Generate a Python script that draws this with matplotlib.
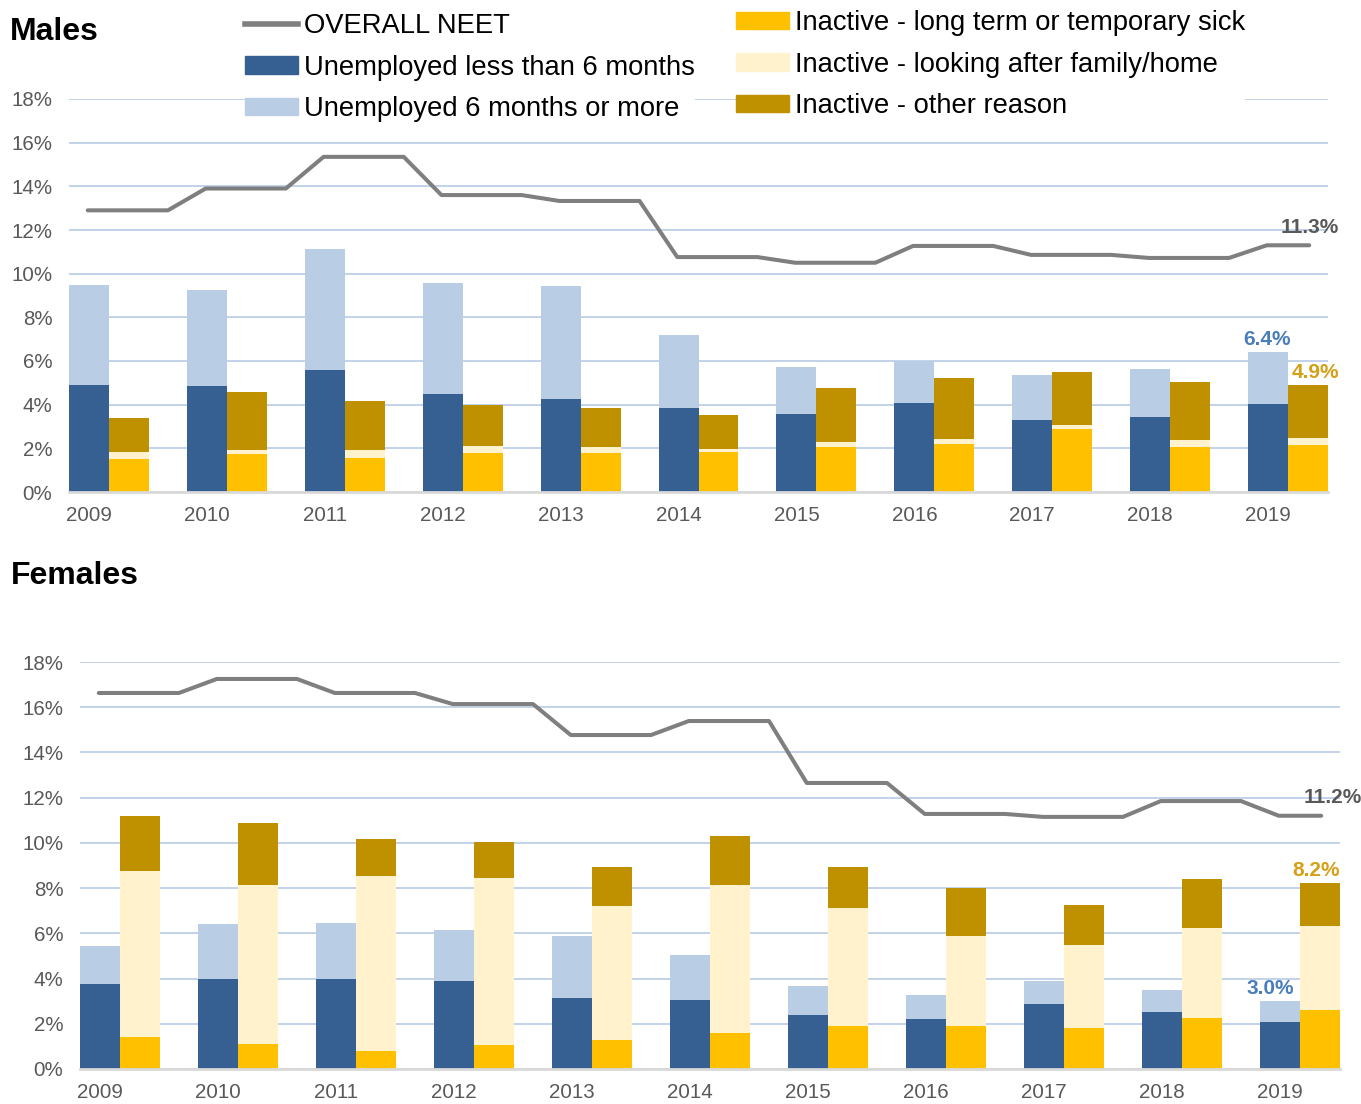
import numpy as np
import matplotlib
matplotlib.use("Agg")
import matplotlib.pyplot as plt
from matplotlib.lines import Line2D
from matplotlib.patches import Patch

plt.rcParams['font.family'] = ['Liberation Sans', 'DejaVu Sans']

# Data (percent of age group)
years = ['2009', '2010', '2011', '2012', '2013', '2014', '2015', '2016', '2017', '2018', '2019']

males_unemp_short = [4.89, 4.84, 5.57, 4.47, 4.26, 3.84, 3.57, 4.07, 3.29, 3.43, 4.03]
males_unemp_long = [4.59, 4.41, 5.58, 5.10, 5.17, 3.36, 2.14, 1.93, 2.05, 2.19, 2.37]
males_sick = [1.53, 1.75, 1.56, 1.79, 1.79, 1.81, 2.04, 2.20, 2.89, 2.07, 2.14]
males_family = [0.28, 0.18, 0.37, 0.32, 0.28, 0.18, 0.26, 0.22, 0.17, 0.30, 0.33]
males_other = [1.56, 2.63, 2.22, 1.87, 1.80, 1.53, 2.45, 2.79, 2.42, 2.65, 2.43]
males_neet = [12.9, 13.9, 15.35, 13.6, 13.33, 10.76, 10.5, 11.27, 10.86, 10.72, 11.3]

females_unemp_short = [3.76, 3.97, 3.97, 3.87, 3.14, 3.07, 2.40, 2.22, 2.87, 2.53, 2.09]
females_unemp_long = [1.66, 2.43, 2.47, 2.26, 2.74, 1.97, 1.27, 1.05, 1.01, 0.97, 0.91]
females_sick = [1.42, 1.11, 0.80, 1.07, 1.29, 1.60, 1.91, 1.91, 1.82, 2.27, 2.62]
females_family = [7.35, 7.04, 7.72, 7.36, 5.91, 6.55, 5.23, 3.97, 3.66, 3.95, 3.69]
females_other = [2.42, 2.74, 1.66, 1.61, 1.75, 2.16, 1.81, 2.11, 1.79, 2.17, 1.91]
females_neet = [16.63, 17.25, 16.63, 16.14, 14.77, 15.39, 12.65, 11.28, 11.15, 11.85, 11.2]

# Colours
c_short = '#366092'
c_long = '#B9CDE5'
c_sick = '#FFC000'
c_family = '#FFF2CC'
c_other = '#BF9000'
c_line = '#7F7F7F'
c_text = '#595959'
c_grid = '#C2D2EA'

w = 0.339  # width of one bar


def draw_panel(ax, short, long_, sick, family, other, neet, dx_neet, dx_unemp, dx_inact):
    x = np.arange(len(years))
    short = np.array(short)
    long_ = np.array(long_)
    sick = np.array(sick)
    family = np.array(family)
    other = np.array(other)

    # unemployed bar (left of pair)
    ax.bar(x - w / 2, short, w, color=c_short, zorder=3)
    ax.bar(x - w / 2, long_, w, bottom=short, color=c_long, zorder=3)
    # inactive bar (right of pair)
    ax.bar(x + w / 2, sick, w, color=c_sick, zorder=3)
    ax.bar(x + w / 2, family, w, bottom=sick, color=c_family, zorder=3)
    ax.bar(x + w / 2, other, w, bottom=sick + family, color=c_other, zorder=3)

    # overall NEET line, flat across each year
    lx, ly = [], []
    for i, v in enumerate(neet):
        lx += [i - 0.18, i + 0.50]
        ly += [v, v]
    lx[-1] = len(years) - 1 + 0.18
    ax.plot(lx, ly, color=c_line, lw=2.9, solid_capstyle='round', zorder=4)

    # value labels for the last year
    unemp_total = short[-1] + long_[-1]
    inact_total = sick[-1] + family[-1] + other[-1]
    ax.annotate(f"{neet[-1]:.1f}%", (lx[-1], neet[-1]), xytext=(dx_neet, 6),
                textcoords='offset points', ha='center', va='bottom',
                fontsize=15, fontweight='bold', color=c_text, zorder=5)
    ax.annotate(f"{unemp_total:.1f}%", (x[-1] - w / 2, unemp_total), xytext=(dx_unemp, 2),
                textcoords='offset points', ha='center', va='bottom',
                fontsize=15, fontweight='bold', color='#4A7EBB', zorder=5)
    ax.annotate(f"{inact_total:.1f}%", (x[-1] + w / 2, inact_total), xytext=(dx_inact, 2),
                textcoords='offset points', ha='center', va='bottom',
                fontsize=15, fontweight='bold', color='#D4A017', zorder=5)

    ax.set_xlim(-w, len(years) - 1 + w)
    ax.set_ylim(0, 18)
    ax.set_yticks(np.arange(0, 19, 2))
    ax.set_yticklabels([f"{v}%" for v in range(0, 19, 2)])
    ax.set_xticks(x - w / 2)
    ax.set_xticklabels(years)
    ax.tick_params(axis='both', length=0, labelsize=14.8, labelcolor=c_text)
    ax.tick_params(axis='y', pad=12)
    ax.tick_params(axis='x', pad=10)
    ax.yaxis.grid(True, color=c_grid, lw=1.4, zorder=0)
    ax.set_axisbelow(True)
    for s in ['top', 'right', 'left']:
        ax.spines[s].set_visible(False)
    ax.spines['bottom'].set_color('#D9D9D9')
    ax.spines['bottom'].set_linewidth(2)
    ax.spines['bottom'].set_zorder(5)


fig = plt.figure(figsize=(13.61, 11.04), dpi=100)
W, H = 1361, 1104

ax1 = fig.add_axes([69 / W, 1 - 492 / H, 1259 / W, 393 / H])
draw_panel(ax1, males_unemp_short, males_unemp_long, males_sick, males_family,
           males_other, males_neet, 0, -1, 5)

ax2 = fig.add_axes([80 / W, 1 - 1069 / H, 1260 / W, 407 / H])
draw_panel(ax2, females_unemp_short, females_unemp_long, females_sick, females_family,
           females_other, females_neet, 8, -7, -3)

fig.text(10 / W, 1 - 32 / H, 'Males', fontsize=23, fontweight='bold', va='center', ha='left')
fig.text(11 / W, 1 - 576 / H, 'Females', fontsize=23, fontweight='bold', va='center', ha='left')

# Legends
h_left = [Line2D([0], [0], color=c_line, lw=4),
          Patch(color=c_short), Patch(color=c_long)]
l_left = ['OVERALL NEET', 'Unemployed less than 6 months', 'Unemployed 6 months or more']
h_right = [Patch(color=c_sick), Patch(color=c_family), Patch(color=c_other)]
l_right = ['Inactive - long term or temporary sick', 'Inactive - looking after family/home',
           'Inactive - other reason']

leg_kw = dict(loc='upper left', fontsize=19.7, frameon=True, facecolor='white',
              edgecolor='none', framealpha=1, borderpad=0, borderaxespad=0,
              handlelength=1.95, handleheight=0.6, handletextpad=0.2, labelspacing=0.57)
fig.legend(h_left, l_left, bbox_to_anchor=(245 / W, 1 - 13 / H), **leg_kw)
fig.legend(h_right, l_right, bbox_to_anchor=(736 / W, 1 - 10 / H), **leg_kw)

plt.savefig('out.png', dpi=100)
